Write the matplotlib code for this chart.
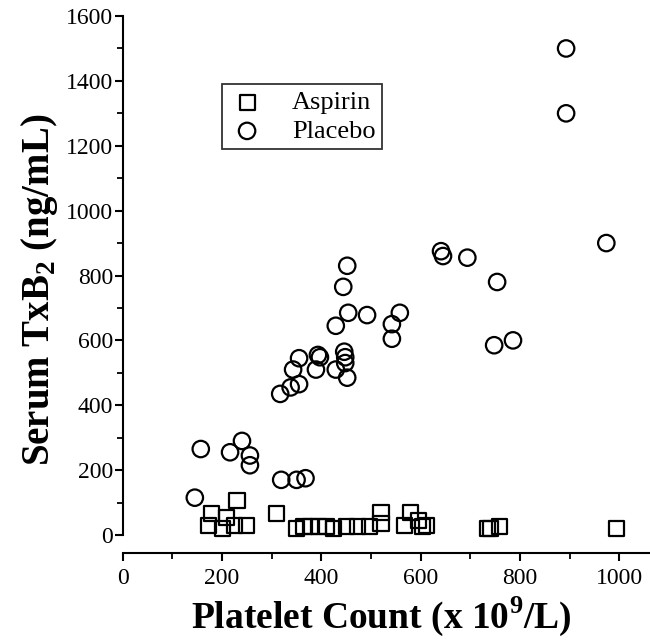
import matplotlib.pyplot as plt
from matplotlib.ticker import MultipleLocator

plt.rcParams['font.family'] = 'Liberation Serif'
plt.rcParams['mathtext.fontset'] = 'custom'
plt.rcParams['mathtext.rm'] = 'Liberation Serif:bold'
plt.rcParams['mathtext.bf'] = 'Liberation Serif:bold'

# Platelet count (x 10^9/L) vs serum TxB2 (ng/mL)
placebo_x = [145, 157, 216, 240, 256, 256, 319, 350, 368,
             317, 338, 355, 343, 355, 389, 393, 397, 429, 446, 448, 448, 452,
             429, 454, 492, 542, 542, 558, 444, 452,
             641, 645, 694, 754, 748, 786, 893, 893, 974]
placebo_y = [115, 265, 255, 290, 245, 215, 170, 170, 175,
             435, 455, 465, 510, 545, 510, 555, 548, 510, 565, 548, 530, 485,
             645, 685, 678, 605, 650, 685, 765, 830,
             875, 860, 855, 780, 585, 600, 1500, 1300, 900]

aspirin_x = [172, 178, 200, 208, 225, 230, 250, 310,
             350, 365, 378, 395, 410, 425, 450, 472, 496, 520, 520,
             567, 580, 595, 603, 611, 734, 740, 758, 994]
aspirin_y = [30, 65, 20, 55, 30, 105, 30, 65,
             20, 25, 25, 25, 25, 20, 25, 25, 25, 35, 70,
             30, 70, 45, 25, 30, 20, 20, 25, 20]

fig = plt.figure(figsize=(6.5, 6.41), dpi=100)
ax = fig.add_axes([0.189, 0.1654, 0.811, 0.8096])

sq = ax.scatter(aspirin_x, aspirin_y, marker='s', s=118, facecolors='none',
                edgecolors='black', linewidths=1.6, label='Aspirin', clip_on=False)
ci = ax.scatter(placebo_x, placebo_y, marker='o', s=140, facecolors='none',
                edgecolors='black', linewidths=1.6, label='Placebo', clip_on=False)

ax.set_xlim(0, 1062)
ax.set_ylim(0, 1600)
ax.xaxis.set_major_locator(MultipleLocator(200))
ax.xaxis.set_minor_locator(MultipleLocator(100))
ax.yaxis.set_major_locator(MultipleLocator(200))
ax.yaxis.set_minor_locator(MultipleLocator(100))

ax.spines['top'].set_visible(False)
ax.spines['right'].set_visible(False)
ax.spines['bottom'].set_position(('outward', 13))
for s in ('left', 'bottom'):
    ax.spines[s].set_linewidth(1.5)

ax.tick_params(which='major', direction='out', length=6, width=1.5,
               labelsize=17, pad=1)
ax.tick_params(which='minor', direction='out', length=4, width=1.3)
ax.tick_params(axis='x', pad=5)

ax.set_xlabel('Platelet Count (x 10$^9$/L)', fontsize=27, fontweight='bold')
ax.xaxis.set_label_coords(0.49, -0.114)
ax.set_ylabel('Serum TxB$_2$ (ng/mL)', fontsize=28, fontweight='bold')
ax.yaxis.set_label_coords(-0.12, 0.472)

leg = ax.legend(handles=[sq, ci], loc='upper left',
                bbox_to_anchor=(222 / 650, 1 - 84 / 641),
                bbox_transform=fig.transFigure, fontsize=19, frameon=True,
                fancybox=False, edgecolor='black', handletextpad=1.0,
                borderpad=0.25, labelspacing=0.2, handlelength=1.4,
                borderaxespad=0)
leg.get_frame().set_linewidth(1.3)

fig.savefig('out.png', dpi=100)
